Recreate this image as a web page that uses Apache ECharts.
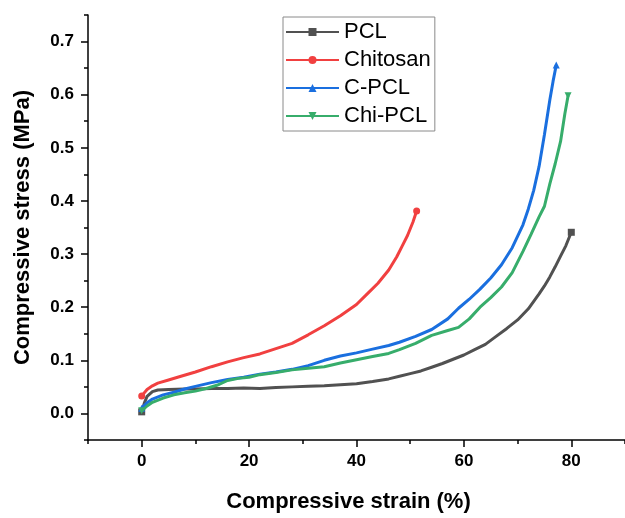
<!DOCTYPE html>
<html>
<head>
<meta charset="utf-8">
<script src="https://cdn.jsdelivr.net/npm/echarts@6/dist/echarts.min.js"></script>
<style>
html,body{margin:0;padding:0;background:#fff;}
#main{width:625px;height:518px;}
</style>
</head>
<body>
<div id="main"></div>
<script>
const seriesNames = ['PCL', 'Chitosan', 'C-PCL', 'Chi-PCL'];
const xMajorTicks = [0, 20, 40, 60, 80];
const xMinorTicks = [-10, 10, 30, 50, 70, 90];
const yMajorTicks = [0, 0.1, 0.2, 0.3, 0.4, 0.5, 0.6, 0.7];
const yMinorTicks = [-0.05, 0.05, 0.15, 0.25, 0.35, 0.45, 0.55, 0.65, 0.75];

const pclData = [[0,0.003],[0.5,0.02],[1,0.032],[2,0.041],[3,0.044],[5,0.045],[8,0.046],[10,0.046],[13,0.047],[16,0.047],[19,0.048],[22,0.047],[25,0.049],[28,0.05],[31,0.051],[34,0.052],[37,0.054],[40,0.056],[43,0.06],[46,0.065],[48,0.07],[50,0.075],[52,0.08],[54,0.087],[56,0.094],[58,0.102],[60,0.11],[62,0.12],[64,0.13],[66,0.145],[68,0.16],[70,0.176],[72,0.197],[74,0.225],[75,0.24],[76,0.257],[77,0.276],[78,0.296],[79,0.316],[80,0.341]];
const chitosanData = [[0,0.033],[1,0.045],[2,0.052],[3,0.057],[5,0.063],[7,0.069],[10,0.078],[13,0.088],[16,0.097],[19,0.105],[22,0.112],[25,0.122],[28,0.132],[31,0.148],[34,0.165],[37,0.184],[40,0.205],[42,0.225],[44,0.245],[46,0.27],[47.5,0.295],[48.5,0.315],[49.5,0.335],[50.5,0.36],[51.2,0.381]];
const cpclData = [[0,0.01],[1,0.02],[2,0.027],[4,0.035],[6,0.04],[8,0.046],[10,0.051],[13,0.058],[16,0.064],[19,0.068],[22,0.074],[25,0.078],[28,0.083],[31,0.09],[34,0.1],[37,0.108],[40,0.114],[43,0.121],[46,0.128],[48,0.134],[51,0.145],[54,0.158],[57,0.178],[59,0.198],[61,0.215],[63,0.234],[65,0.255],[67,0.28],[69,0.312],[71,0.355],[72,0.385],[73,0.42],[74,0.465],[75,0.525],[76,0.59],[76.6,0.625],[77.2,0.656]];
const chipclData = [[0,0.005],[1,0.014],[2,0.021],[4,0.029],[6,0.035],[8,0.039],[10,0.042],[12,0.047],[14,0.053],[16,0.062],[18,0.066],[20,0.068],[22,0.073],[25,0.077],[28,0.082],[31,0.085],[34,0.088],[37,0.095],[40,0.101],[43,0.107],[46,0.113],[48,0.12],[51,0.132],[54,0.147],[57,0.156],[59,0.162],[61,0.178],[63,0.2],[65,0.218],[67,0.238],[69,0.265],[71,0.305],[72.5,0.337],[74,0.37],[75,0.39],[76,0.432],[77,0.47],[78,0.512],[78.8,0.564],[79.4,0.598]];

const colors = ['#515151', '#F14040', '#1A6FDF', '#37AD6B'];
const symbols = ['rect', 'circle', 'triangle', 'path://M0,0 L10,0 L5,10 Z'];
const datasets = [pclData, chitosanData, cpclData, chipclData];

const FONT = 'Liberation Sans, Arial, sans-serif';

function makeSeries(i) {
  const d = datasets[i];
  return {
    name: seriesNames[i],
    type: 'line',
    data: d,
    xAxisIndex: 0,
    yAxisIndex: 0,
    symbol: symbols[i],
    showAllSymbol: true,
    symbolSize: function (v, p) {
      return (p.dataIndex === 0 || p.dataIndex === d.length - 1) ? 7 : 0;
    },
    lineStyle: { width: 3, color: colors[i] },
    itemStyle: { color: colors[i] },
    animation: false,
    z: 2 + i
  };
}

const chart = echarts.init(document.getElementById('main'));
chart.setOption({
  backgroundColor: '#fff',
  animation: false,
  grid: { left: 88, top: 15, width: 539, height: 434, containLabel: false },
  legend: {
    orient: 'vertical',
    left: 283,
    top: 17,
    data: seriesNames,
    itemWidth: 53,
    itemHeight: 10,
    itemGap: 4,
    padding: [3, 4, 3, 2],
    borderColor: '#8a8a8a',
    borderWidth: 1,
    textStyle: { fontFamily: FONT, fontSize: 22, color: '#000', lineHeight: 24 }
  },
  xAxis: [{
    type: 'value', min: -10, max: 90,
    name: 'Compressive strain (%)', nameLocation: 'middle', nameGap: 51,
    nameTextStyle: { fontFamily: FONT, fontSize: 22, fontWeight: 'bold', color: '#000', padding: [0, 16, 0, 0] },
    axisLine: { show: true, onZero: false, lineStyle: { color: '#000', width: 1.5 } },
    axisTick: { show: true, inside: false, length: 7, customValues: xMajorTicks, lineStyle: { color: '#000', width: 1.5 } },
    axisLabel: { customValues: xMajorTicks, margin: 13, fontFamily: FONT, fontSize: 17, fontWeight: 'bold', color: '#000' },
    splitLine: { show: false }
  }, {
    type: 'value', min: -10, max: 90, position: 'bottom', gridIndex: 0,
    axisLine: { show: false, onZero: false },
    axisTick: { show: true, inside: false, length: 4, customValues: xMinorTicks, lineStyle: { color: '#000', width: 1.5 } },
    axisLabel: { show: false },
    splitLine: { show: false }
  }],
  yAxis: [{
    type: 'value', min: -0.05, max: 0.75,
    name: 'Compressive stress (MPa)', nameLocation: 'middle', nameGap: 54,
    nameTextStyle: { fontFamily: FONT, fontSize: 22, fontWeight: 'bold', color: '#000' },
    axisLine: { show: true, onZero: false, lineStyle: { color: '#000', width: 1.5 } },
    axisTick: { show: true, inside: false, length: 7, customValues: yMajorTicks, lineStyle: { color: '#000', width: 1.5 } },
    axisLabel: { customValues: yMajorTicks, margin: 14, fontFamily: FONT, fontSize: 17, fontWeight: 'bold', color: '#000',
      formatter: function (v) { return v.toFixed(1); } },
    splitLine: { show: false }
  }, {
    type: 'value', min: -0.05, max: 0.75, position: 'left', gridIndex: 0,
    axisLine: { show: false, onZero: false },
    axisTick: { show: true, inside: false, length: 4, customValues: yMinorTicks, lineStyle: { color: '#000', width: 1.5 } },
    axisLabel: { show: false },
    splitLine: { show: false }
  }],
  series: [0, 1, 2, 3].map(makeSeries)
});
</script>
</body>
</html>
